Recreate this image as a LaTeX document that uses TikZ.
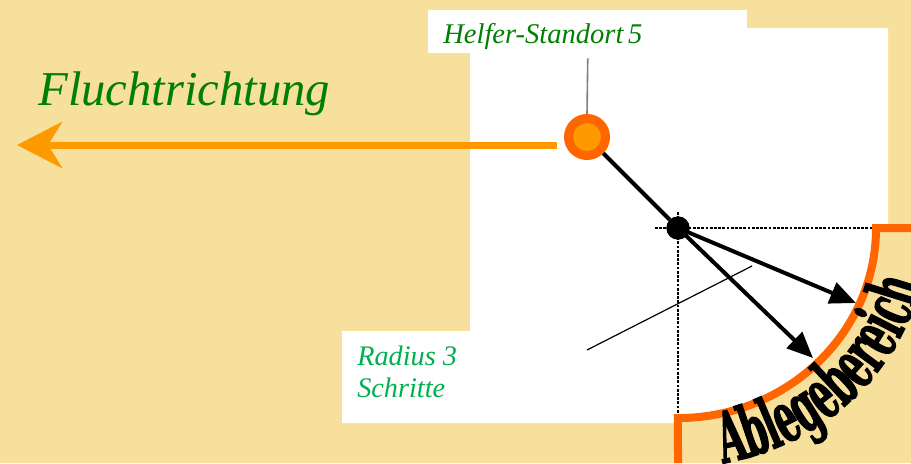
\documentclass[tikz,border=0pt]{standalone}
\usepackage{fontspec}
\setmainfont{Liberation Serif}[ItalicFont={Liberation Serif Italic}]
\newfontfamily\ablfont{DejaVu Serif Bold}[FakeStretch=0.5, FakeBold=1.5]
\usepackage{tikz}
\usetikzlibrary{positioning, arrows.meta, calc, decorations.text}
\definecolor{sand}{HTML}{F7DF9C}
\definecolor{hellorange}{HTML}{FF9900}
\definecolor{dunkelorange}{HTML}{FF6600}
\definecolor{gruen}{HTML}{008000}
\definecolor{hellgruen}{HTML}{00B050}
\tikzset{
	>=Stealth,
	helfer/.style={circle, draw=dunkelorange, fill=hellorange, line width=0.225cm, minimum size=0.925cm, inner sep=0pt},
	mitte/.style={circle, fill=black, minimum size=0.575cm, inner sep=0pt},
	hilfslinie/.style={densely dotted, line width=0.07cm},
	wurf/.style={line width=0.1cm, -{Triangle[length=0.65cm, width=0.55cm]}},
	schild/.style={fill=white, anchor=base west, inner xsep=0.375cm, inner ysep=0pt, text width=7.225cm, text height=0.825cm, text depth=0.25cm, align=left},
}

\begin{document}
\begin{tikzpicture}[x=0.025cm, y=0.025cm]
	\path[use as bounding box, fill=sand] (0,0) rectangle (911,463);
	\clip (0,0) rectangle (911,463);
	
	\coordinate (RECHTS) at (876,235);
	\coordinate (UNTEN) at (678,45);
	
	% weisse Flaeche
	\fill[white] (470,435) -- (888,435) -- (888,235) -- (RECHTS) arc[start angle=0, end angle=-90, x radius=4.95cm, y radius=4.75cm] -- (678,40) -- (342,40) -- (342,132) -- (470,132) -- cycle;
	
	\node[mitte] (MITTE) at (678,235) {};
	\node[schild] (SCHILD) at (428,420) {\textcolor{gruen}{\fontsize{20.3}{24}\selectfont\itshape Helfer-Standort 5}};
	\node[helfer] (HELFER) at (587,326) {};
	\node[anchor=base west, inner sep=0pt] (FLUCHTTEXT) at (38,358) {\textcolor{gruen}{\fontsize{34.6}{40}\selectfont\itshape Fluchtrichtung}};
	\node[anchor=north west, inner sep=0pt, align=left, text=hellgruen, font=\fontsize{20.1}{22.8}\selectfont\itshape] (RADIUS) at (357,117) {Radius 3\\Schritte};
	
	\coordinate (FLUCHT) at (17,318);
	\coordinate (ZIEL1) at (856,160);
	\coordinate (ZIEL2) at (813,105);
	\coordinate (ZEIGER1) at (587,113);
	\coordinate (ZEIGER2) at (752,197);
	
	% Ablegebereich
	\draw[hilfslinie] ($(MITTE)+(-23,0)$) -- (RECHTS);
	\draw[hilfslinie] ($(MITTE)+(0,16)$) -- (UNTEN);
	\draw[dunkelorange, line width=0.2cm] (911,235) -- (RECHTS) arc[start angle=0, end angle=-90, x radius=4.95cm, y radius=4.75cm] -- (678,0);
	\path[decorate, decoration={text along path, text align=left, text={|\ablfont\fontsize{50}{52}\selectfont|Ablegebereich}}] ($(MITTE)+(280.4:6.25cm and 5.98cm)$) arc[start angle=280.4, end angle=375, x radius=6.25cm, y radius=5.98cm];
	\fill (MITTE) circle[radius=0.29cm];
	
	\draw[gray, line width=0.04cm, shorten <=0.125cm] (SCHILD.south) -- (HELFER.north);
	\draw[hellorange, line width=0.175cm, -{Stealth[length=1.125cm, width=1.15cm, inset=0.35cm]}] ($(HELFER.west)+(-7,-8)$) -- (FLUCHT);
	\draw[line width=0.1cm] (HELFER) -- (MITTE);
	\draw[wurf] (MITTE.center) -- (ZIEL1);
	\draw[wurf] (MITTE.center) -- (ZIEL2);
	\draw[line width=0.03cm] (ZEIGER1) -- (ZEIGER2);
\end{tikzpicture}
\end{document}
